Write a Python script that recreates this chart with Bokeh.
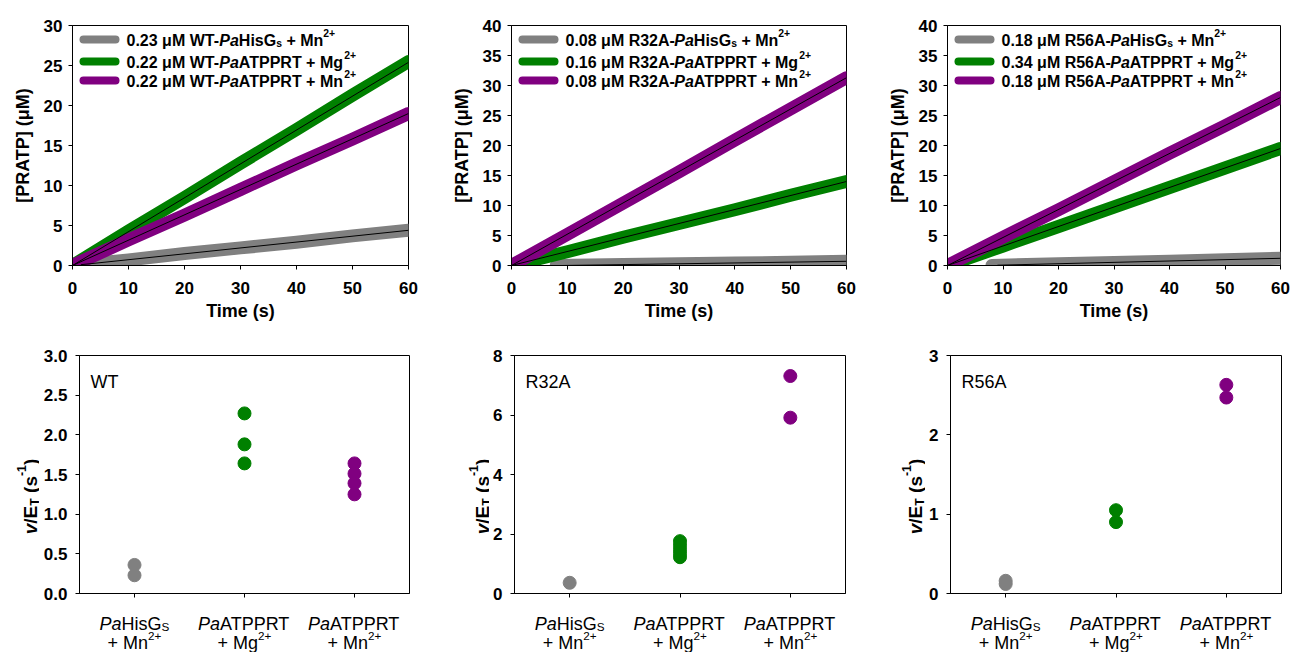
import math
from bokeh.plotting import figure
from bokeh.models import Label, FixedTicker, PrintfTickFormatter, Range1d
from bokeh.layouts import column, row
from bokeh.embed import file_html
from bokeh.resources import INLINE

FONT = "Liberation Sans"

# ------------------------------------------------------------------ data
colors = ["#808080", "#008000", "#800080"]
variants = ["WT", "R32A", "R56A"]
enzymes = ["HisG", "ATPPRT", "ATPPRT"]
metals = ["Mn", "Mg", "Mn"]

wt_conc = ["0.23", "0.22", "0.22"]
r32a_conc = ["0.08", "0.16", "0.08"]
r56a_conc = ["0.18", "0.34", "0.18"]

time_ticks = [0, 10, 20, 30, 40, 50, 60]
time_pts = [0, 10, 20, 30, 40, 50, 60]
time_late = [8, 20, 30, 40, 50, 60]

wt_his_mn = [0.0, 0.7, 1.5, 2.2, 2.9, 3.7, 4.4]
wt_atp_mg = [0.0, 4.3, 8.5, 12.8, 17.0, 21.3, 25.5]
wt_atp_mn = [0.0, 3.2, 6.3, 9.5, 12.7, 15.8, 19.0]
r32a_his_mn = [0.0, 0.15, 0.3, 0.4, 0.55, 0.7]
r32a_atp_mg = [0.0, 2.3, 4.7, 7.0, 9.3, 11.7, 14.0]
r32a_atp_mn = [0.0, 5.2, 10.4, 15.6, 20.9, 26.1, 31.3]
r56a_his_mn = [0.0, 0.3, 0.5, 0.7, 0.95, 1.2]
r56a_atp_mg = [0.0, 3.25, 6.5, 9.75, 13.0, 16.25, 19.5]
r56a_atp_mn = [0.0, 4.7, 9.3, 14.0, 18.7, 23.3, 28.0]

# linear fits (start/end time, start/end value)
wt_fit_t = [[1.5, 60], [0, 60], [0, 60]]
wt_fit_y = [[0.1, 4.4], [0.0, 25.4], [0.0, 19.0]]
r32a_fit_t = [[9, 60], [0, 60], [0, 60]]
r32a_fit_y = [[0.0, 0.7], [0.0, 14.0], [0.0, 31.3]]
r56a_fit_t = [[9, 60], [0, 60], [0, 60]]
r56a_fit_y = [[0.05, 1.2], [0.0, 19.5], [0.0, 28.0]]

top_y_max = [30, 40, 40]
top_y_ticks_wt = [0, 5, 10, 15, 20, 25, 30]
top_y_ticks_mut = [0, 5, 10, 15, 20, 25, 30, 35, 40]

# v/E_T rates (s^-1)
wt_rates = [[0.36, 0.23], [2.27, 1.88, 1.64], [1.64, 1.51, 1.39, 1.25]]
r32a_rates = [[0.36], [1.76, 1.62, 1.48, 1.35, 1.22], [7.31, 5.91]]
r56a_rates = [[0.16, 0.12], [1.05, 0.90], [2.63, 2.47]]

bottom_y_max = [3.0, 8, 3]
wt_rate_ticks = [0.0, 0.5, 1.0, 1.5, 2.0, 2.5, 3.0]
r32a_rate_ticks = [0, 2, 4, 6, 8]
r56a_rate_ticks = [0, 1, 2, 3]

# ------------------------------------------------------------------ text metrics
W_BOLD = {' ': 278, '+': 584, '-': 333, '.': 278, '/': 278, '(': 333, ')': 333,
          '[': 333, ']': 333, 'A': 722, 'E': 667, 'G': 778, 'H': 722, 'M': 833,
          'P': 667, 'R': 722, 'S': 667, 'T': 611, 'W': 944, 'a': 556, 'g': 611,
          'i': 278, 'n': 611, 's': 556, 'v': 556, 'μ': 576}
W_REG = {' ': 278, '+': 584, '-': 333, '.': 278, '/': 278, '(': 333, ')': 333,
         'A': 667, 'E': 667, 'G': 778, 'H': 722, 'M': 833, 'P': 667, 'R': 722,
         'S': 667, 'T': 611, 'W': 944, 'a': 556, 'g': 556, 'i': 222, 'n': 556,
         's': 500, 'v': 500, 'μ': 576}

BASE_FIX = 5  # labels render a few px below their alphabetic anchor


def measure(txt, size, bold):
    tbl = W_BOLD if bold else W_REG
    return sum(tbl.get(c, 556) for c in txt) * size / 1000.0


def layout_rich(spec, size, bold, sup_raise=0.45, sub_drop=0.22):
    out = []
    x = 0.0
    for txt, kind in spec:
        if kind in ("sub", "sup"):
            fs = size * 0.65
            dy = size * sub_drop if kind == "sub" else -size * sup_raise
            italic = False
        else:
            fs = size
            dy = 0.0
            italic = kind == "i"
        st = ("bold " if bold else "") + ("italic" if italic else "")
        st = st.strip() or "normal"
        core = txt.lstrip(" ")
        x += measure(txt[:len(txt) - len(core)], fs, bold)
        out.append((core.rstrip(" "), x, dy, fs, st))
        x += measure(core, fs, bold)
    return out, x


def add_rich(p, spec, xd, yd, size, bold, ppx, ppy, align="left", rotate=False,
             sup_raise=0.45, sub_drop=0.22):
    pieces, total = layout_rich(spec, size, bold, sup_raise, sub_drop)
    start = -total / 2 if align == "center" else 0.0
    for txt, dx, dy, fs, st in pieces:
        along = start + dx
        if rotate:
            sx, sy = dy, -along
        else:
            sx, sy = along, dy - BASE_FIX
        p.add_layout(Label(x=xd + sx / ppx, y=yd - sy / ppy, text=txt,
                           text_font=FONT, text_font_size=f"{fs:.1f}px",
                           text_font_style=st, text_align="left",
                           text_baseline="alphabetic", text_color="black",
                           angle=math.pi / 2 if rotate else 0.0))


def style(p, tick_size):
    p.outline_line_color = "black"
    p.outline_line_width = 1
    p.outline_line_alpha = 1.0
    p.xgrid.visible = False
    p.ygrid.visible = False
    p.background_fill_color = "white"
    p.border_fill_color = "white"
    for ax in (p.xaxis[0], p.yaxis[0]):
        ax.axis_line_color = "black"
        ax.axis_line_width = 1
        ax.major_tick_line_color = "black"
        ax.major_tick_out = 4
        ax.major_tick_in = 0
        ax.minor_tick_out = 0
        ax.minor_tick_in = 0
        ax.major_label_text_font = FONT
        ax.major_label_text_font_size = tick_size
        ax.major_label_text_font_style = "bold"
        ax.major_label_text_color = "black"
        ax.axis_label_text_font = FONT
        ax.axis_label_text_font_size = "18px"
        ax.axis_label_text_font_style = "bold"
        ax.axis_label_text_color = "black"


def blank(w, h, x_range, y_range, left=0, right=0):
    p = figure(frame_width=w, frame_height=h, x_range=x_range, y_range=y_range,
               output_backend="svg", toolbar_location=None, title=None,
               x_axis_location=None, y_axis_location=None,
               min_border_left=left, min_border_right=right,
               min_border_top=0, min_border_bottom=0)
    p.outline_line_color = None
    p.grid.visible = False
    p.background_fill_color = "white"
    p.border_fill_color = "white"
    return p


TOP_FH = 240
TOP_TOP, TOP_BOTTOM = 25, 68
BOT_FH = 238
BOT_TOP, BOT_BOTTOM = 22, 20
CAT_H = 39


def make_top(idx, concs, ts, ys, fit_t, fit_y, y_ticks, fw, left, right):
    y_max = top_y_max[idx]
    p = figure(frame_width=fw, frame_height=TOP_FH, title=None,
               x_range=Range1d(0, 60), y_range=Range1d(0, y_max),
               output_backend="svg", toolbar_location=None,
               min_border_left=left, min_border_right=right,
               min_border_top=TOP_TOP, min_border_bottom=TOP_BOTTOM)
    style(p, "17px")
    p.xaxis.ticker = FixedTicker(ticks=time_ticks)
    p.yaxis.ticker = FixedTicker(ticks=y_ticks)
    p.xaxis.axis_label = "Time (s)"
    p.yaxis.axis_label = "[PRATP] (μM)"
    p.xaxis.major_label_standoff = 12
    p.xaxis.axis_label_standoff = 4
    p.yaxis.major_label_standoff = 6
    p.yaxis.axis_label_standoff = 8
    ppx = fw / 60.0
    ppy = TOP_FH / float(y_max)
    for t, y, c in zip(ts, ys, colors):
        p.line(t, y, line_width=13, line_color=c, line_cap="round", line_join="round")
    for t, y in zip(fit_t, fit_y):
        p.line(t, y, line_width=1, line_color="black")
    rows_px = [14, 36, 55]
    for i in range(3):
        yrow = y_max - rows_px[i] / ppy
        p.line([11 / ppx, 43 / ppx], [yrow, yrow], line_width=8,
               line_color=colors[i], line_cap="round")
        head = f"{concs[i]} μM {variants[idx]}-"
        if enzymes[i] == "HisG":
            spec = [(head, "n"), ("Pa", "i"), ("HisG", "n"), ("s", "sub"),
                    (f" + {metals[i]}", "n"), ("2+", "sup")]
        else:
            spec = [(head, "n"), ("Pa", "i"), (f"{enzymes[i]} + {metals[i]}", "n"),
                    ("2+", "sup")]
        add_rich(p, spec, 54 / ppx, yrow - 5.7 / ppy, 16, True, ppx, ppy)
    return p


def make_bottom(idx, rates, y_ticks, fmt, fw, ylab_w, left, right, ylab_off):
    y_max = bottom_y_max[idx]
    p = figure(frame_width=fw, frame_height=BOT_FH, title=None,
               x_range=Range1d(0.5, 3.5), y_range=Range1d(0, y_max),
               output_backend="svg", toolbar_location=None,
               min_border_left=left, min_border_right=right,
               min_border_top=BOT_TOP, min_border_bottom=BOT_BOTTOM)
    style(p, "17px")
    cat_pos = [i + 1 for i in range(len(enzymes))]
    p.xaxis.ticker = FixedTicker(ticks=cat_pos)
    p.xaxis.major_label_overrides = {c: "" for c in cat_pos}
    p.xaxis.major_label_text_font_size = "1px"
    p.xaxis.major_label_standoff = 0
    p.yaxis.ticker = FixedTicker(ticks=y_ticks)
    p.yaxis.formatter = PrintfTickFormatter(format=fmt)
    p.yaxis.major_label_standoff = 8
    ppx = fw / 3.0
    ppy = BOT_FH / float(y_max)
    for i, (vals, c) in enumerate(zip(rates, colors)):
        p.scatter([cat_pos[i]] * len(vals), vals, size=13, color=c, line_color=c)
    # panel tag
    p.add_layout(Label(x=0.5 + 11 / ppx, y=y_max - (31 - BASE_FIX) / ppy, text=variants[idx],
                       text_font=FONT, text_font_size="18px", text_color="black",
                       text_baseline="alphabetic"))

    # y-axis title v/E_T (s^-1) in a strip to the left
    tot_h = BOT_TOP + BOT_FH + BOT_BOTTOM
    yl = blank(ylab_w, tot_h, Range1d(0, ylab_w), Range1d(0, tot_h))
    ylab = [("v", "i"), ("/E", "n"), ("T", "sub"), (" (s", "n"), ("-1", "sup"), (")", "n")]
    add_rich(yl, ylab, ylab_w + left - ylab_off, BOT_BOTTOM + BOT_FH / 2.0, 19, True,
             1.0, 1.0, align="center", rotate=True)

    # category labels in a strip below
    cat = blank(fw, CAT_H, p.x_range, Range1d(-CAT_H, 0),
                left=ylab_w + left, right=right)
    for i in range(3):
        if enzymes[i] == "HisG":
            l1 = [("Pa", "i"), ("HisG", "n"), ("S", "sub")]
        else:
            l1 = [("Pa", "i"), (enzymes[i], "n")]
        l2 = [(f"+ {metals[i]}", "n"), ("2+", "sup")]
        add_rich(cat, l1, cat_pos[i], -15, 18, False, ppx, 1.0, align="center",
                 sup_raise=0.36, sub_drop=0.16)
        add_rich(cat, l2, cat_pos[i], -34, 18, False, ppx, 1.0, align="center",
                 sup_raise=0.36, sub_drop=0.16)
    return column(row(yl, p), cat)


f1 = make_top(0, wt_conc, [time_pts, time_pts, time_pts],
              [wt_his_mn, wt_atp_mg, wt_atp_mn], wt_fit_t, wt_fit_y,
              top_y_ticks_wt, 336, 72, 37)
f2 = make_top(1, r32a_conc, [time_late, time_pts, time_pts],
              [r32a_his_mn, r32a_atp_mg, r32a_atp_mn], r32a_fit_t, r32a_fit_y,
              top_y_ticks_mut, 335, 66, 35)
f3 = make_top(2, r56a_conc, [time_late, time_pts, time_pts],
              [r56a_his_mn, r56a_atp_mg, r56a_atp_mn], r56a_fit_t, r56a_fit_y,
              top_y_ticks_mut, 333, 66, 10)

b1 = make_bottom(0, wt_rates, wt_rate_ticks, "%.1f", 330, 39, 40, 45, 49)
b2 = make_bottom(1, r32a_rates, r32a_rate_ticks, "%d", 331, 35, 25, 45, 32)
b3 = make_bottom(2, r56a_rates, r56a_rate_ticks, "%d", 331, 35, 25, 8, 35)

layout = column(row(f1, f2, f3), row(b1, b2, b3))

with open("out.html", "w") as fh:
    fh.write(file_html(layout, INLINE))
